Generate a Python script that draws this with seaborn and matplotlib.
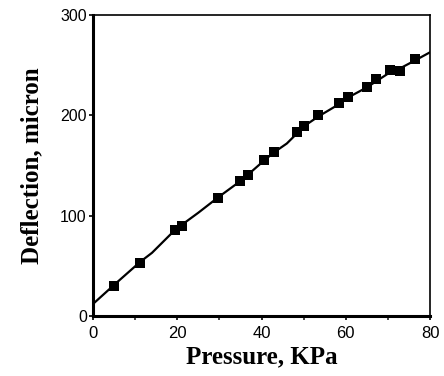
import matplotlib
matplotlib.use("Agg")
import matplotlib.pyplot as plt
import seaborn as sns
import pandas as pd
from matplotlib.ticker import MultipleLocator

sns.set_theme(style="white")
plt.rcParams['font.family'] = ['Liberation Sans', 'DejaVu Sans']

# Measured points
pressure = [5.0, 11.2, 19.5, 21.1, 29.6, 34.8, 36.8, 40.6, 42.9, 48.4, 50.0,
            53.5, 58.3, 60.6, 65.0, 67.2, 70.5, 72.9, 76.5]
deflection = [30, 53, 86, 90, 118, 135, 141, 156, 163.5, 183.5, 189,
              200, 212, 218, 228, 236, 245, 244, 256]

# Fitted curve
curve_p = [0, 5.0, 11.2, 14, 19.5, 21.1, 25, 29.6, 34.8, 36.8, 40.6, 42.9,
           46, 48.4, 50.0, 53.5, 58.3, 60.6, 65.0, 67.2, 70.5, 72.9, 76.5, 80]
curve_d = [12, 31, 54, 63, 86, 91, 103, 118, 134, 141, 155, 163,
           172, 182, 189, 199, 211, 218, 228, 234, 243, 247, 255, 263]

xticks = [0, 20, 40, 60, 80]
yticks = [0, 100, 200, 300]

df = pd.DataFrame({"p": pressure, "d": deflection})
cdf = pd.DataFrame({"p": curve_p, "d": curve_d})

fig = plt.figure(figsize=(4.44, 3.76), dpi=100)
ax = fig.add_axes([0.2095, 0.1596, 0.759, 0.800])

sns.lineplot(data=cdf, x="p", y="d", ax=ax, color="black", linewidth=1.6,
             sort=False, estimator=None)
sns.scatterplot(data=df, x="p", y="d", ax=ax, marker="s", color="black",
                s=44, edgecolor="black", linewidth=0, zorder=3)

ax.set_xlim(0, 80)
ax.set_ylim(0, 300)
ax.set_xticks(xticks)
ax.set_xticklabels([str(v) for v in xticks])
ax.set_yticks(yticks)
ax.set_yticklabels([str(v) for v in yticks])
ax.xaxis.set_minor_locator(MultipleLocator(10))

for side in ["left", "bottom"]:
    ax.spines[side].set_linewidth(2.2)
for side in ["top", "right"]:
    ax.spines[side].set_linewidth(1.2)
for s in ax.spines.values():
    s.set_color("black")

ax.tick_params(axis="x", which="major", direction="out", length=3, width=1.2,
               labelsize=12, colors="black", pad=4, bottom=True)
ax.tick_params(axis="y", which="major", direction="out", length=3, width=1.2,
               labelsize=11.5, colors="black", pad=1.5, left=True)
ax.tick_params(axis="x", which="minor", direction="out", length=3, width=1.2,
               bottom=True)

lab_font = dict(family=["Liberation Serif", "DejaVu Serif"], weight="bold",
                size=18, color="black")
ax.set_xlabel("Pressure, KPa", fontdict=lab_font, labelpad=3)
ax.set_ylabel("Deflection, micron", fontdict=lab_font, labelpad=12)

fig.savefig("out.png", dpi=100, facecolor="white")
